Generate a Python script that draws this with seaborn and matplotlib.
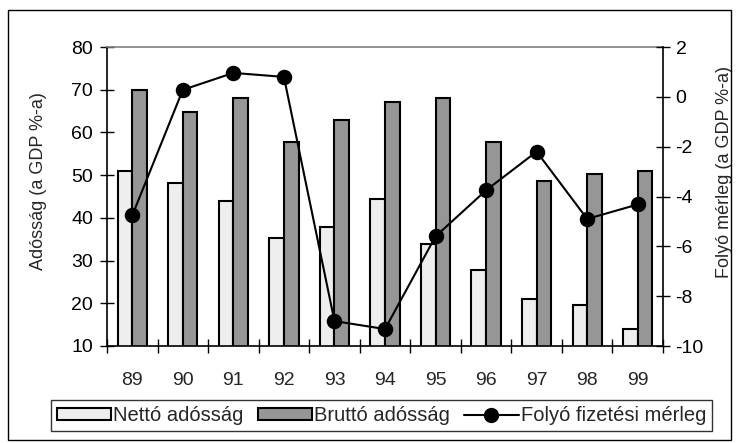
import numpy as np
import pandas as pd
import matplotlib
matplotlib.use("Agg")
import matplotlib.pyplot as plt
import seaborn as sns
from matplotlib.patches import Patch, Rectangle
from matplotlib.lines import Line2D

years = ["89", "90", "91", "92", "93", "94", "95", "96", "97", "98", "99"]
netto = [51.0, 48.2, 44.0, 35.3, 37.8, 44.3, 33.9, 27.8, 21.0, 19.6, 14.0]
brutto = [70.0, 64.8, 68.1, 57.7, 62.9, 67.1, 68.1, 57.7, 48.6, 50.2, 51.0]
folyo = [-4.76, 0.28, 0.96, 0.80, -9.0, -9.32, -5.6, -3.75, -2.2, -4.9, -4.32]

series_names = ["Nettó adósság", "Bruttó adósság", "Folyó fizetési mérleg"]
left_label = "Adósság (a GDP %-a)"
right_label = "Folyó mérleg (a GDP %-a)"

sns.set_theme(style="white")
plt.rcParams["font.family"] = ["Liberation Sans", "DejaVu Sans"]
plt.rcParams["axes.unicode_minus"] = False

df = pd.DataFrame({
    "year": years * 2,
    "value": netto + brutto,
    "series": [series_names[0]] * len(years) + [series_names[1]] * len(years),
})

fig = plt.figure(figsize=(7.39, 4.43), dpi=100)
ax_l, ax_r, ax_t, ax_b = 107, 663, 47, 346
ax = fig.add_axes([ax_l / 739, 1 - ax_b / 443, (ax_r - ax_l) / 739, (ax_b - ax_t) / 443])

light = "#eeeeee"
dark = "#969696"
sns.barplot(data=df, x="year", y="value", hue="series", order=years,
            palette=[light, dark], width=0.58, edgecolor="black",
            linewidth=1.5, saturation=1, ax=ax, legend=False)

ax.set_ylim(10, 80)
ax.set_yticks(np.arange(10, 81, 10))
ax.set_xlim(-0.5, len(years) - 0.5)
ax.set_xlabel("")
ax.set_ylabel(left_label, fontsize=13)
ax.yaxis.set_label_coords((47 - ax_l) / (ax_r - ax_l), (ax_b - 181) / (ax_b - ax_t))
ax.tick_params(axis="y", which="major", direction="inout", length=10,
               width=1, colors="black", labelsize=14, pad=5, left=True)
ax.set_xticks(np.arange(len(years)))
ax.set_xticklabels(years)
ax.tick_params(axis="x", which="major", length=0, labelsize=14, pad=19)
ax.set_xticks(np.arange(len(years) + 1) - 0.5, minor=True)
ax.tick_params(axis="x", which="minor", direction="inout", length=10,
               width=1, color="black", bottom=True)
for s in ["left", "bottom"]:
    ax.spines[s].set_color("black")
    ax.spines[s].set_linewidth(1.2)
ax.spines["top"].set_color("#808080")
ax.spines["top"].set_linewidth(1.2)
ax.spines["right"].set_visible(False)

ax2 = ax.twinx()
sns.pointplot(x=years, y=folyo, order=years, color="black", markers="o",
              linestyles="-", ax=ax2, markersize=10, linewidth=1.5)
ax2.set_xlim(-0.5, len(years) - 0.5)
ax2.set_ylim(-10, 2)
ax2.set_yticks(np.arange(-10, 3, 2))
ax2.set_ylabel(right_label, fontsize=13)
ax2.yaxis.set_label_coords((716 - ax_l) / (ax_r - ax_l), (ax_b - 172) / (ax_b - ax_t))
ax2.tick_params(axis="y", direction="inout", length=10, width=1,
                colors="black", labelsize=14, pad=4, right=True)
for s in ["left", "top", "bottom"]:
    ax2.spines[s].set_visible(False)
ax2.spines["right"].set_color("black")
ax2.spines["right"].set_linewidth(1.2)

handles = [
    Patch(facecolor=light, edgecolor="black", linewidth=1.5),
    Patch(facecolor=dark, edgecolor="black", linewidth=1.5),
    Line2D([0], [0], color="black", marker="o", markersize=10, linewidth=1.5),
]
leg = fig.legend(handles, series_names, loc="center",
                 bbox_to_anchor=((45 + 718) / 2 / 739, 1 - 415.5 / 443),
                 ncol=3, fontsize=14.5, frameon=True, fancybox=False,
                 edgecolor="black", handlelength=2.7, handleheight=0.5,
                 handletextpad=0.1, columnspacing=0.7, borderpad=0.3)
leg.get_frame().set_linewidth(1.0)

fig.patches.append(Rectangle((8 / 739, 1 - 440 / 443), (731 - 8) / 739, (440 - 10) / 443,
                             transform=fig.transFigure, fill=False,
                             edgecolor="black", linewidth=1.0))

fig.savefig("out.png", dpi=100)
